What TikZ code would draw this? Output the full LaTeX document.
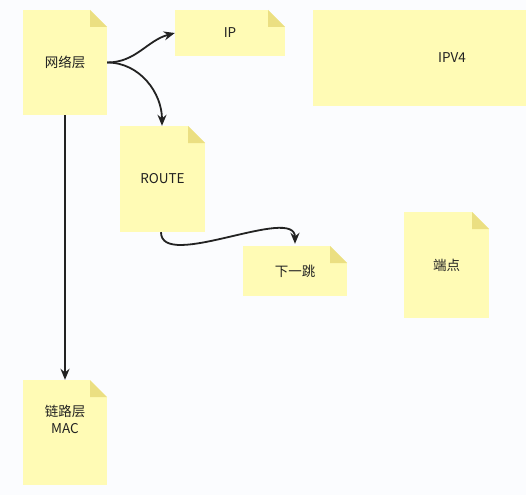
\documentclass[tikz,border=0pt]{standalone}
\usepackage{fontspec}
\setmainfont{Noto Sans CJK SC}
\usetikzlibrary{arrows.meta}
\definecolor{notefill}{HTML}{FFFBB5}
\definecolor{notefold}{HTML}{EBDF82}
\definecolor{paper}{HTML}{FBFCFE}
\definecolor{ink}{HTML}{222222}
\begin{document}
\begin{tikzpicture}[
  x=1pt, y=-1pt,
  note/.style={fill=notefill, inner sep=0pt, align=center, text=ink,
    font=\fontsize{13.5}{17}\selectfont,
    path picture={
      \fill[paper] ([xshift=-17pt]path picture bounding box.north east) -- (path picture bounding box.north east) -- ([yshift=-17pt]path picture bounding box.north east) -- cycle;
      \fill[notefold] ([xshift=-17pt]path picture bounding box.north east) -- ([yshift=-17pt]path picture bounding box.north east) -- ([xshift=-17pt,yshift=-17pt]path picture bounding box.north east) -- cycle;
    }},
  link/.style={draw=ink, line width=1.8pt, -{Stealth[length=11pt,width=9pt]}}
]
\fill[paper] (0,0) rectangle (526,495);
\useasboundingbox (0,0) rectangle (526,495);

\node[note, minimum width=84pt, minimum height=105pt] (net) at (65,62.5) {网络层};
\node[note, minimum width=110pt, minimum height=46pt] (ip) at (230,33) {IP};
\node[note, minimum width=278pt, minimum height=96pt] (ipv4) at (452,58) {IPV4};
\node[note, minimum width=85pt, minimum height=106pt] (route) at (162.5,179) {ROUTE};
\node[note, minimum width=104pt, minimum height=50pt] (hop) at (295,271) {下一跳};
\node[note, minimum width=85pt, minimum height=106pt] (endpt) at (446.5,265) {端点};
\node[note, minimum width=84pt, minimum height=105pt] (mac) at (65,432.5) {链路层\\MAC\\[10pt]};

\draw[link] (net.east) to[out=0, in=195] (ip.west);
\draw[link] (net.east) to[out=0, in=90] ([xshift=-0.5pt]route.north);
\draw[link] (net.south) -- (mac.north);
\draw[link] ([xshift=-1.5pt]route.south) to[out=-90, in=90, looseness=0.75] ([yshift=2pt]hop.north);
\end{tikzpicture}
\end{document}
